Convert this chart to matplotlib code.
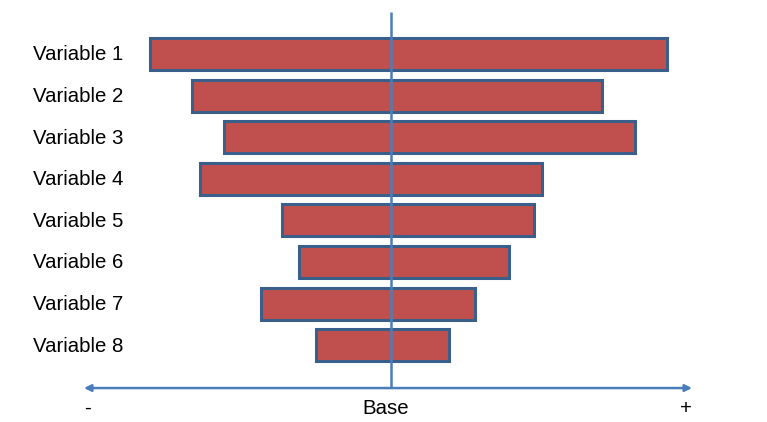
import matplotlib
matplotlib.use("Agg")
import matplotlib.pyplot as plt

categories = ["Variable 1", "Variable 2", "Variable 3", "Variable 4",
              "Variable 5", "Variable 6", "Variable 7", "Variable 8"]
low = [-241, -199, -167, -191, -109, -92, -130, -75]
high = [276, 211, 244, 151, 143, 118, 84, 58]
axis_labels = ["-", "Base", "+"]

plt.rcParams['font.family'] = ['Liberation Sans', 'DejaVu Sans']

fig = plt.figure(figsize=(7.67, 4.22), dpi=100)
ax = fig.add_axes([0, 0, 1, 1])
ax.set_xlim(-391, 376)
ax.set_ylim(8.846, -1.298)
ax.axis('off')

for i, (lo, hi) in enumerate(zip(low, high)):
    ax.barh(i, hi - lo, left=lo, height=0.769, color='#C0504D',
            edgecolor='#3A5F8B', linewidth=2.2, zorder=2)
    ax.text(-358, i + 0.02, categories[i], ha='left', va='center', fontsize=14.7, color='black')

# base line
ax.plot([0, 0], [-1.01, 8.03], color='#4A7EBB', lw=1.8, zorder=3, solid_capstyle='butt')

# arrow axis
ax.annotate('', xy=(-307, 8.03), xytext=(301, 8.03),
            arrowprops=dict(arrowstyle='<|-|>', color='#4A7EBB', lw=1.8,
                            mutation_scale=10, shrinkA=0, shrinkB=0))

for x, t in zip([-303, -5, 295], axis_labels):
    ax.text(x, 8.52, t, ha='center', va='center', fontsize=14.7, color='black')

fig.savefig('out.png', dpi=100)
